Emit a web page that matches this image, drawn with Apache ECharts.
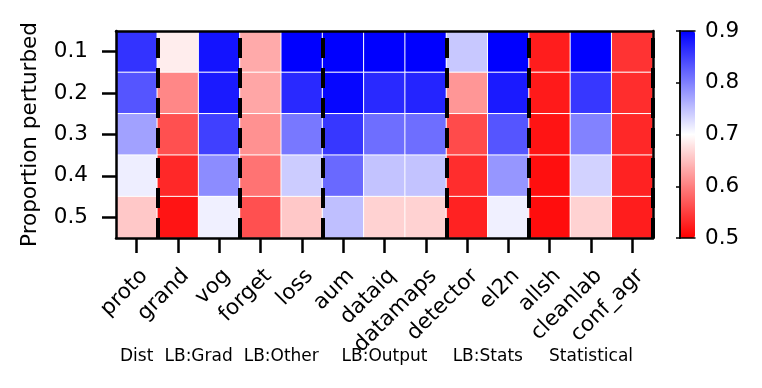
<!DOCTYPE html>
<html>
<head>
<meta charset="utf-8">
<script src="https://cdn.jsdelivr.net/npm/echarts@6/dist/echarts.min.js"></script>
<style>
  html, body { margin: 0; padding: 0; background: #fff; }
  #chart { width: 762px; height: 388px; }
</style>
</head>
<body>
<div id="chart"></div>
<script>
// detection methods along x, perturbation proportions along y
let methods = ['proto', 'grand', 'vog', 'forget', 'loss', 'aum', 'dataiq', 'datamaps', 'detector', 'el2n', 'allsh', 'cleanlab', 'conf_agr'];
let proportions = ['0.1', '0.2', '0.3', '0.4', '0.5'];

// one row per proportion
let row01 = [0.860, 0.686, 0.885, 0.633, 0.900, 0.900, 0.900, 0.900, 0.743, 0.900, 0.523, 0.900, 0.540];
let row02 = [0.833, 0.606, 0.880, 0.630, 0.868, 0.895, 0.868, 0.872, 0.618, 0.880, 0.520, 0.857, 0.535];
let row03 = [0.774, 0.563, 0.850, 0.614, 0.806, 0.857, 0.814, 0.814, 0.559, 0.833, 0.516, 0.798, 0.531];
let row04 = [0.713, 0.531, 0.790, 0.590, 0.740, 0.818, 0.747, 0.747, 0.535, 0.782, 0.512, 0.735, 0.527];
let row05 = [0.657, 0.516, 0.712, 0.563, 0.657, 0.750, 0.665, 0.665, 0.527, 0.712, 0.510, 0.665, 0.523];
let rows = [row01, row02, row03, row04, row05];

// group boundaries (column index) and group names
let dividers = [1, 3, 5, 8, 10, 13];
let groupNames = ['Dist', 'LB:Grad', 'LB:Other', 'LB:Output', 'LB:Stats', 'Statistical'];
let colorTicks = [0.5, 0.6, 0.7, 0.8, 0.9];

let font = 'DejaVu Sans';
let fs = 21.5;

let cells = [];
for (let r = 0; r < rows.length; r++) {
    for (let c = 0; c < methods.length; c++) {
        cells.push([c, r, rows[r][c]]);
    }
}
// label position of each group = middle of its column range
let groupCenters = [];
let prev = 0;
for (let i = 0; i < dividers.length; i++) {
    groupCenters.push((prev + dividers[i]) / 2);
    prev = dividers[i];
}

let chart = echarts.init(document.getElementById('chart'));
let frame = { show: true, lineStyle: { color: '#000', width: 2.5 } };

const option = {
    animation: false,
    textStyle: { fontFamily: font },
    grid: [
        { left: 116, top: 31, width: 537, height: 207 },
        { left: 680, top: 31, width: 15, height: 207 }
    ],
    visualMap: {
        type: 'continuous',
        min: colorTicks[0],
        max: colorTicks[colorTicks.length - 1],
        seriesIndex: 0,
        orient: 'vertical',
        left: 680,
        top: 31,
        itemWidth: 15,
        itemHeight: 207,
        padding: 0,
        text: null,
        calculable: false,
        inRange: { color: ['#ff0000', '#ffffff', '#0000ff'] }
    },
    xAxis: [
        {
            type: 'category', data: methods, gridIndex: 0, position: 'bottom', z: 10,
            axisLine: frame,
            axisTick: { show: true, alignWithLabel: true, length: 15, lineStyle: { color: '#000', width: 2.5 } },
            axisLabel: { interval: 0, rotate: 45, verticalAlign: 'top', margin: 27, fontSize: fs, color: '#000', fontFamily: font },
            splitLine: { show: false }
        },
        {
            type: 'value', gridIndex: 0, position: 'bottom', min: 0, max: methods.length, interval: 0.5,
            axisLine: { show: false }, axisTick: { show: false }, splitLine: { show: false },
            axisLabel: {
                margin: 110, fontSize: 17, color: '#000', fontFamily: font, showMinLabel: true, showMaxLabel: true,
                formatter: function (v) {
                    let i = groupCenters.indexOf(v);
                    return i >= 0 ? groupNames[i] : '';
                }
            }
        },
        {
            type: 'category', data: methods, gridIndex: 0, position: 'top', z: 10,
            axisLine: frame, axisTick: { show: false }, axisLabel: { show: false }
        },
        {
            type: 'value', gridIndex: 1, position: 'bottom', min: 0, max: 1, z: 10,
            axisLine: { show: true, lineStyle: { color: '#000', width: 1.5 } },
            axisTick: { show: false }, axisLabel: { show: false }, splitLine: { show: false }
        },
        {
            type: 'value', gridIndex: 1, position: 'top', min: 0, max: 1, z: 10,
            axisLine: { show: true, lineStyle: { color: '#000', width: 1.5 } },
            axisTick: { show: false }, axisLabel: { show: false }, splitLine: { show: false }
        }
    ],
    yAxis: [
        {
            type: 'category', data: proportions, gridIndex: 0, inverse: true, position: 'left', z: 10,
            name: 'Proportion perturbed', nameLocation: 'middle', nameGap: 75,
            nameTextStyle: { fontSize: fs, color: '#000', fontFamily: font },
            axisLine: frame,
            axisTick: { show: true, alignWithLabel: true, length: 14, lineStyle: { color: '#000', width: 2.5 } },
            axisLabel: { fontSize: fs, color: '#000', margin: 28, fontFamily: font },
            splitLine: { show: false }
        },
        {
            type: 'value', gridIndex: 0, min: 0, max: proportions.length, position: 'right', z: 10,
            axisLine: frame, axisTick: { show: false }, axisLabel: { show: false }, splitLine: { show: false }
        },
        {
            type: 'value', gridIndex: 1, position: 'left', min: 0.5, max: 0.9, interval: 0.1, z: 10,
            axisLine: { show: true, lineStyle: { color: '#000', width: 1.5 } },
            axisTick: { show: true, length: 4, lineStyle: { color: '#000', width: 1.5 } },
            axisLabel: { show: false }, splitLine: { show: false }
        },
        {
            type: 'value', gridIndex: 1, position: 'right', min: 0.5, max: 0.9, interval: 0.1, z: 10,
            axisLine: { show: true, lineStyle: { color: '#000', width: 1.5 } },
            axisTick: { show: false },
            axisLabel: { fontSize: fs, color: '#000', margin: 10, fontFamily: font, formatter: function (v) { return v.toFixed(1); } },
            splitLine: { show: false }
        }
    ],
    series: [
        {
            name: 'score',
            type: 'heatmap',
            xAxisIndex: 0,
            yAxisIndex: 0,
            data: cells,
            itemStyle: { borderColor: '#fff', borderWidth: 1 },
            emphasis: { disabled: true }
        },
        {
            name: 'groups',
            type: 'line',
            xAxisIndex: 1,
            yAxisIndex: 1,
            data: [],
            z: 6,
            markLine: {
                silent: true,
                symbol: 'none',
                label: { show: false },
                lineStyle: { color: '#000', width: 4, type: [20, 10] },
                data: dividers.map(function (d) { return { xAxis: d }; })
            }
        }
    ]
};
chart.setOption(option);
</script>
</body>
</html>
